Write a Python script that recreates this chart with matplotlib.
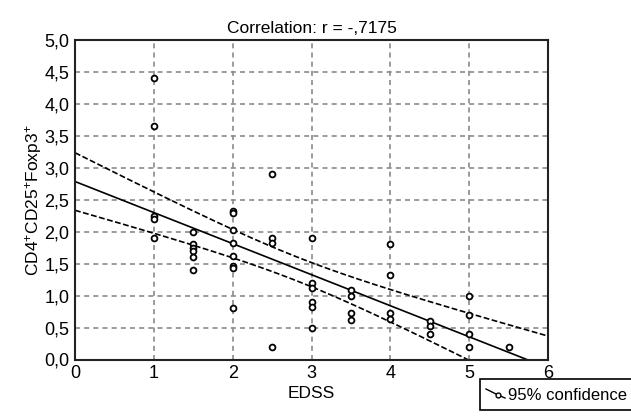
import numpy as np
import matplotlib
matplotlib.use('Agg')
import matplotlib.pyplot as plt
from matplotlib.lines import Line2D
from matplotlib.patches import Rectangle

# 폰트설정
plt.rcParams['font.family'] = ['Liberation Sans', 'DejaVu Sans']
plt.rcParams['mathtext.default'] = 'regular'
plt.rcParams['font.size'] = 13

# 데이터
edss = [1, 1, 1, 1, 1,
        1.5, 1.5, 1.5, 1.5, 1.5, 1.5,
        2, 2, 2, 2, 2, 2, 2, 2,
        2.5, 2.5, 2.5, 2.5,
        3, 3, 3, 3, 3, 3,
        3.5, 3.5, 3.5, 3.5,
        4, 4, 4, 4,
        4.5, 4.5, 4.5,
        5, 5, 5, 5,
        5.5]
tregs = [4.4, 3.65, 2.25, 2.2, 1.9,
         2.0, 1.8, 1.75, 1.7, 1.6, 1.4,
         2.32, 2.3, 2.02, 1.82, 1.62, 1.47, 1.43, 0.8,
         2.9, 1.9, 1.83, 0.2,
         1.9, 1.2, 1.12, 0.9, 0.82, 0.5,
         1.08, 1.0, 0.72, 0.62,
         1.8, 1.32, 0.72, 0.64,
         0.6, 0.52, 0.4,
         1.0, 0.7, 0.4, 0.2,
         0.2]
xticks = [0, 1, 2, 3, 4, 5, 6]
yticks = [0.0, 0.5, 1.0, 1.5, 2.0, 2.5, 3.0, 3.5, 4.0, 4.5, 5.0]
ytick_labels = ['0,0', '0,5', '1,0', '1,5', '2,0', '2,5', '3,0', '3,5', '4,0', '4,5', '5,0']

x = np.array(edss)
y = np.array(tregs)

# 회귀선과 95% 신뢰구간
n = len(x)
slope, icpt = np.polyfit(x, y, 1)
resid = y - (icpt + slope * x)
s = np.sqrt(np.sum(resid ** 2) / (n - 2))
sxx = np.sum((x - x.mean()) ** 2)
t = 2.017
xs = np.linspace(0, 6, 200)
fit = icpt + slope * xs
half = t * s * np.sqrt(1 / n + (xs - x.mean()) ** 2 / sxx)

fig = plt.figure(figsize=(6.31, 4.16), dpi=100)
ax = fig.add_axes([75 / 631, 1 - 359.5 / 416, 473 / 631, 319.5 / 416])

ax.grid(True, color='#8a8a8a', linestyle=(0, (3, 2.5)), linewidth=1.2)
ax.set_axisbelow(True)

ax.plot(xs, fit, color='black', linewidth=1.2)
ax.plot(xs, fit + half, color='black', linewidth=1.2, linestyle=(0, (3.5, 1.5)))
ax.plot(xs, fit - half, color='black', linewidth=1.2, linestyle=(0, (3.5, 1.5)))
ax.plot(x, y, linestyle='none', marker='o', markersize=4.2, markerfacecolor='white',
        markeredgecolor='black', markeredgewidth=1.3)

ax.set_xlim(0, 6)
ax.set_ylim(0, 5)
ax.set_xticks(xticks)
ax.set_yticks(yticks)
ax.set_yticklabels(ytick_labels)
ax.tick_params(length=0, pad=4, labelsize=13)
for sp in ax.spines.values():
    sp.set_linewidth(1.5)
    sp.set_color('#222222')

ax.set_title('Correlation: r = -,7175', fontsize=12.5, pad=5)
ax.set_xlabel('EDSS', fontsize=12.5, labelpad=3)
ax.set_ylabel('CD4$^{+}$CD25$^{+}$Foxp3$^{+}$', fontsize=12.5, labelpad=0)

# 범례 상자
fig.add_artist(Rectangle((480 / 631, 1 - 410 / 416), 152 / 631, 31 / 416,
                         transform=fig.transFigure, facecolor='white',
                         edgecolor='black', linewidth=1.2))
fig.add_artist(Line2D([486 / 631, 498 / 631, 505 / 631],
                      [1 - 389 / 416, 1 - 395 / 416, 1 - 398 / 416],
                      transform=fig.transFigure, color='black', linewidth=1,
                      marker='o', markevery=[1], markersize=3.5,
                      markerfacecolor='white', markeredgewidth=1))
fig.text(508 / 631, 1 - 395 / 416, '95% confidence', fontsize=12, va='center', ha='left')

fig.savefig('out.png', dpi=100)
